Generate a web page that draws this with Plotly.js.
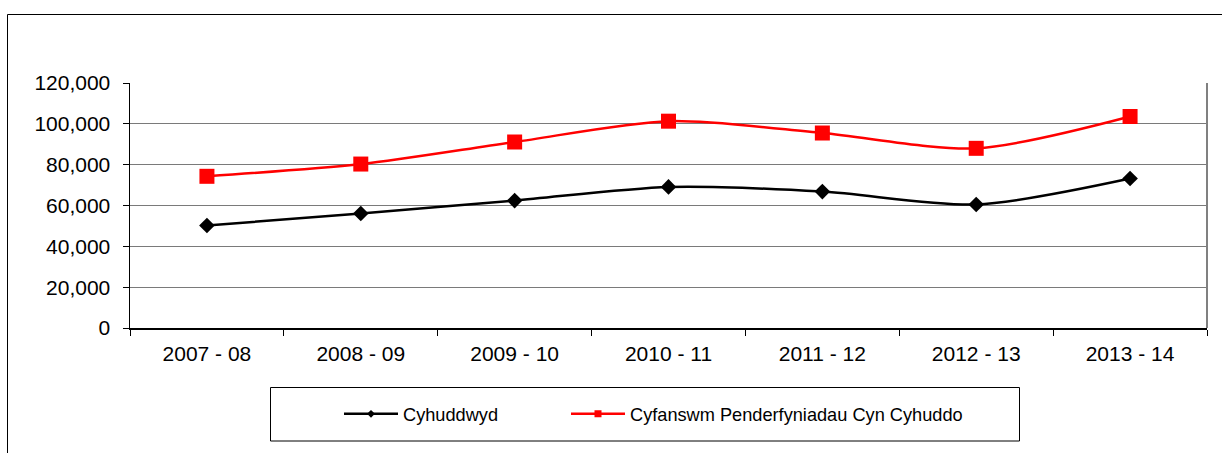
<!DOCTYPE html>
<html>
<head>
<meta charset="utf-8">
<script src="https://cdn.plot.ly/plotly-3.0.1.min.js"></script>
<style>
html,body{margin:0;padding:0;background:#fff;}
#chart{width:1222px;height:453px;}
</style>
</head>
<body>
<div id="chart"></div>
<script>
// Data
const categories = ['2007 - 08','2008 - 09','2009 - 10','2010 - 11','2011 - 12','2012 - 13','2013 - 14'];
const seriesNames = ['Cyhuddwyd','Cyfanswm Penderfyniadau Cyn Cyhuddo'];
const cyhuddwyd = [50200, 56100, 62400, 69100, 66800, 60500, 73200];
const cyfanswm = [74300, 80300, 91100, 101300, 95500, 88000, 103600];
const yTicks = [0, 20000, 40000, 60000, 80000, 100000, 120000];

const W = 1222, H = 453;
const M = {l:130, r:15, t:83, b:125};
const pw = W - M.l - M.r, ph = H - M.t - M.b;
const px = x => (x - M.l) / pw;
const py = y => (H - M.b - y) / ph;

const FONT = 'Liberation Sans, Arial, sans-serif';

const traces = [
  {
    x: categories, y: cyhuddwyd, type: 'scatter', mode: 'lines+markers',
    line: {color: '#000000', width: 2.5, shape: 'spline', smoothing: 0.8},
    marker: {symbol: 'diamond', size: 12, color: '#000000'},
    showlegend: false, hoverinfo: 'skip'
  },
  {
    x: categories, y: cyfanswm, type: 'scatter', mode: 'lines+markers',
    line: {color: '#ff0000', width: 2.5, shape: 'spline', smoothing: 0.8},
    marker: {symbol: 'square', size: 15, color: '#ff0000'},
    showlegend: false, hoverinfo: 'skip'
  },
  {
    x: [null], y: [null], type: 'scatter', mode: 'lines+markers', name: seriesNames[0],
    line: {color: '#000000', width: 2.5},
    marker: {symbol: 'diamond', size: 6, color: '#000000'},
    showlegend: true, legend: 'legend'
  },
  {
    x: [null], y: [null], type: 'scatter', mode: 'lines+markers', name: seriesNames[1],
    line: {color: '#ff0000', width: 2.5},
    marker: {symbol: 'square', size: 7, color: '#ff0000'},
    showlegend: true, legend: 'legend2'
  }
];

const legendBase = {
  orientation: 'h',
  yanchor: 'middle', y: py(414),
  xanchor: 'left',
  bgcolor: 'rgba(0,0,0,0)', borderwidth: 0,
  font: {family: FONT, size: 18.2, color: '#000000'},
  itemwidth: 54,
  itemclick: false, itemdoubleclick: false
};

const layout = {
  width: W, height: H,
  margin: M,
  paper_bgcolor: '#ffffff', plot_bgcolor: '#ffffff',
  font: {family: FONT, size: 21, color: '#000000'},
  showlegend: true,
  xaxis: {
    type: 'category', categoryorder: 'array', categoryarray: categories,
    range: [-0.5, categories.length - 0.5],
    tickson: 'boundaries', ticks: 'outside', ticklen: 6, tickcolor: '#000000', tickwidth: 1,
    showline: true, linecolor: '#000000', linewidth: 1.5,
    showgrid: false, zeroline: false,
    ticklabelstandoff: 6,
    tickfont: {family: FONT, size: 21, color: '#000000'},
    fixedrange: true
  },
  yaxis: {
    range: [0, 120000], tickvals: yTicks, tickformat: ',d',
    ticks: 'outside', ticklen: 6, tickcolor: '#000000', tickwidth: 1,
    showline: true, linecolor: '#000000', linewidth: 1.5,
    showgrid: true, gridcolor: '#7a7a7a', gridwidth: 1,
    zeroline: false,
    ticklabelstandoff: 8,
    tickfont: {family: FONT, size: 21, color: '#000000'},
    fixedrange: true
  },
  legend: Object.assign({}, legendBase, {x: px(339)}),
  legend2: Object.assign({}, legendBase, {x: px(566)}),
  shapes: [
    // outer chart frame (left and top edges visible)
    {type: 'line', xref: 'paper', yref: 'paper', x0: px(7.5), x1: px(7.5), y0: py(460), y1: py(14.5), line: {color: '#000000', width: 1}},
    {type: 'line', xref: 'paper', yref: 'paper', x0: px(7.5), x1: px(1230), y0: py(14.5), y1: py(14.5), line: {color: '#000000', width: 1}},
    // right border of plot area
    {type: 'line', xref: 'paper', yref: 'paper', x0: 1, x1: 1, y0: 0, y1: 1, line: {color: '#808080', width: 2}},
    // legend box
    {type: 'rect', xref: 'paper', yref: 'paper', x0: px(270.5), x1: px(1019.5), y0: py(441), y1: py(387.5), line: {color: '#000000', width: 1}, fillcolor: 'rgba(0,0,0,0)'}
  ]
};

Plotly.newPlot('chart', traces, layout, {displayModeBar: false, staticPlot: true});
</script>
</body>
</html>
